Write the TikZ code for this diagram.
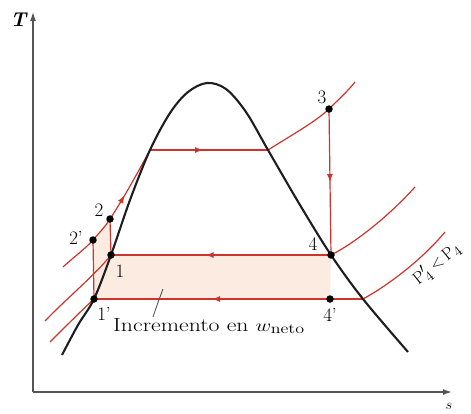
\documentclass[tikz,border=0pt]{standalone}
\usepackage{graphicx}
\usetikzlibrary{arrows.meta,decorations.markings}
\definecolor{cyc}{RGB}{204,52,44}
\definecolor{domec}{RGB}{30,30,30}
\definecolor{axisc}{RGB}{85,85,85}
\definecolor{incfill}{RGB}{251,235,224}
\begin{document}
\begin{tikzpicture}[x=1pt,y=-1pt,
  cycline/.style={color=cyc, line width=1.2pt},
  domeline/.style={color=domec, line width=2.1pt},
  axisline/.style={color=axisc, line width=1.3pt, -{Latex[length=9pt,width=6pt]}},
  ptdot/.style={circle, fill=black, inner sep=0pt, minimum size=7.5pt},
  lbl/.style={font=\fontsize{19}{21}\selectfont, inner sep=0pt},
  leader/.style={color=axisc, line width=0.9pt},
  midarrow/.style={postaction={decorate}, decoration={markings, mark=at position #1 with {\arrow{Latex[length=8pt,width=6pt]}}}}
]
\useasboundingbox (0,0) rectangle (471,413);
\clip (0,0) rectangle (471,413);
% key coordinates
\coordinate (O) at (33,392);
\coordinate (Ytip) at (33,12);
\coordinate (Xtip) at (452,392);
\coordinate (n1) at (111,255);
\coordinate (n1p) at (94,299);
\coordinate (n2) at (110,219);
\coordinate (n2p) at (93,240);
\coordinate (n3) at (329,109);
\coordinate (n4) at (331,255);
\coordinate (n4p) at (330,299);
\coordinate (dL) at (150,150);
\coordinate (dR) at (268,150);
\coordinate (dR2) at (363,299);
\coordinate (e3) at (355,82);
\coordinate (e4) at (415,187);
\coordinate (e4p) at (445,232);
\coordinate (a0) at (63,267);
\coordinate (b0) at (45,321);
\coordinate (c0) at (50,342);
\coordinate (lA) at (153,317);
\coordinate (lB) at (163,289);
% shaded area
\fill[incfill] (n1p) -- (n2p) -- (n2) -- (n1) -- (n4) -- (n4p) -- cycle;
% axes
\draw[axisline] (O) -- (Ytip);
\draw[axisline] (O) -- (Xtip);
\node[font=\fontsize{20}{22}\selectfont, inner sep=0pt] (T) at (19,20) {\textbf{\textit{T}}};
\node[font=\fontsize{15}{17}\selectfont, inner sep=0pt] (s) at (449,406) {$s$};
% cycle lines
\draw[cycline, midarrow=0.45] (dL) -- (dR);
\draw[cycline] (dR) .. controls (295,133) and (315,122) .. (n3) .. controls (338,100) and (347,92) .. (e3);
\draw[cycline, midarrow=0.5] (n3) -- (n4);
\draw[cycline, midarrow=0.57] (n4) -- (n1);
\draw[cycline, midarrow=0.5] (n4p) -- (n1p);
\draw[cycline] (n4p) -- (dR2);
\draw[cycline] (n4) .. controls (355,243) and (390,215) .. (e4);
\draw[cycline] (dR2) .. controls (385,287) and (420,262) .. (e4p);
\draw[cycline] (n2) -- (n1);
\draw[cycline] (n2p) -- (n1p);
\draw[cycline] (a0) .. controls (75,256) and (85,249) .. (n2p) .. controls (99,233) and (105,227) .. (n2);
\draw[cycline, midarrow=0.35] (n2) .. controls (125,196) and (138,172) .. (dL);
\draw[cycline] (n1) .. controls (95,275) and (65,300) .. (b0);
\draw[cycline] (n1p) .. controls (80,312) and (62,330) .. (c0);
% saturation dome
\draw[domeline] plot[smooth, tension=0.55] coordinates {(62,355) (78,325) (94,299) (111,255) (130,200) (150,150) (170,113) (188,92) (207,83) (226,89) (246,112) (268,150) (300,205) (331,255) (363,299) (408,352)};
% state points
\node[ptdot] (d1) at (n1) {};
\node[ptdot] (d1p) at (n1p) {};
\node[ptdot] (d2) at (n2) {};
\node[ptdot] (d2p) at (n2p) {};
\node[ptdot] (d3) at (n3) {};
\node[ptdot] (d4) at (n4) {};
\node[ptdot] (d4p) at (n4p) {};
% labels
\node[lbl] (l3) at (322,97) {3};
\node[lbl] (l2) at (99,210) {2};
\node[lbl] (l2p) at (76,238) {2'};
\node[lbl] (l1) at (120,271) {1};
\node[lbl] (l1p) at (104,314) {1'};
\node[lbl] (l4) at (313,244) {4};
\node[lbl] (l4p) at (330,315) {4'};
\node[lbl, rotate=39] (lp) at (437,264) {$\mathrm{P}'_4\,{<}\,\mathrm{P}_4$};
% increment label
\node[lbl, anchor=base west] (inc) at (113,331) {\scalebox{1.25}[1]{Incremento en $w_{\mathrm{neto}}$}};
\draw[leader] (lA) .. controls (157,305) .. (lB);
\end{tikzpicture}
\end{document}
